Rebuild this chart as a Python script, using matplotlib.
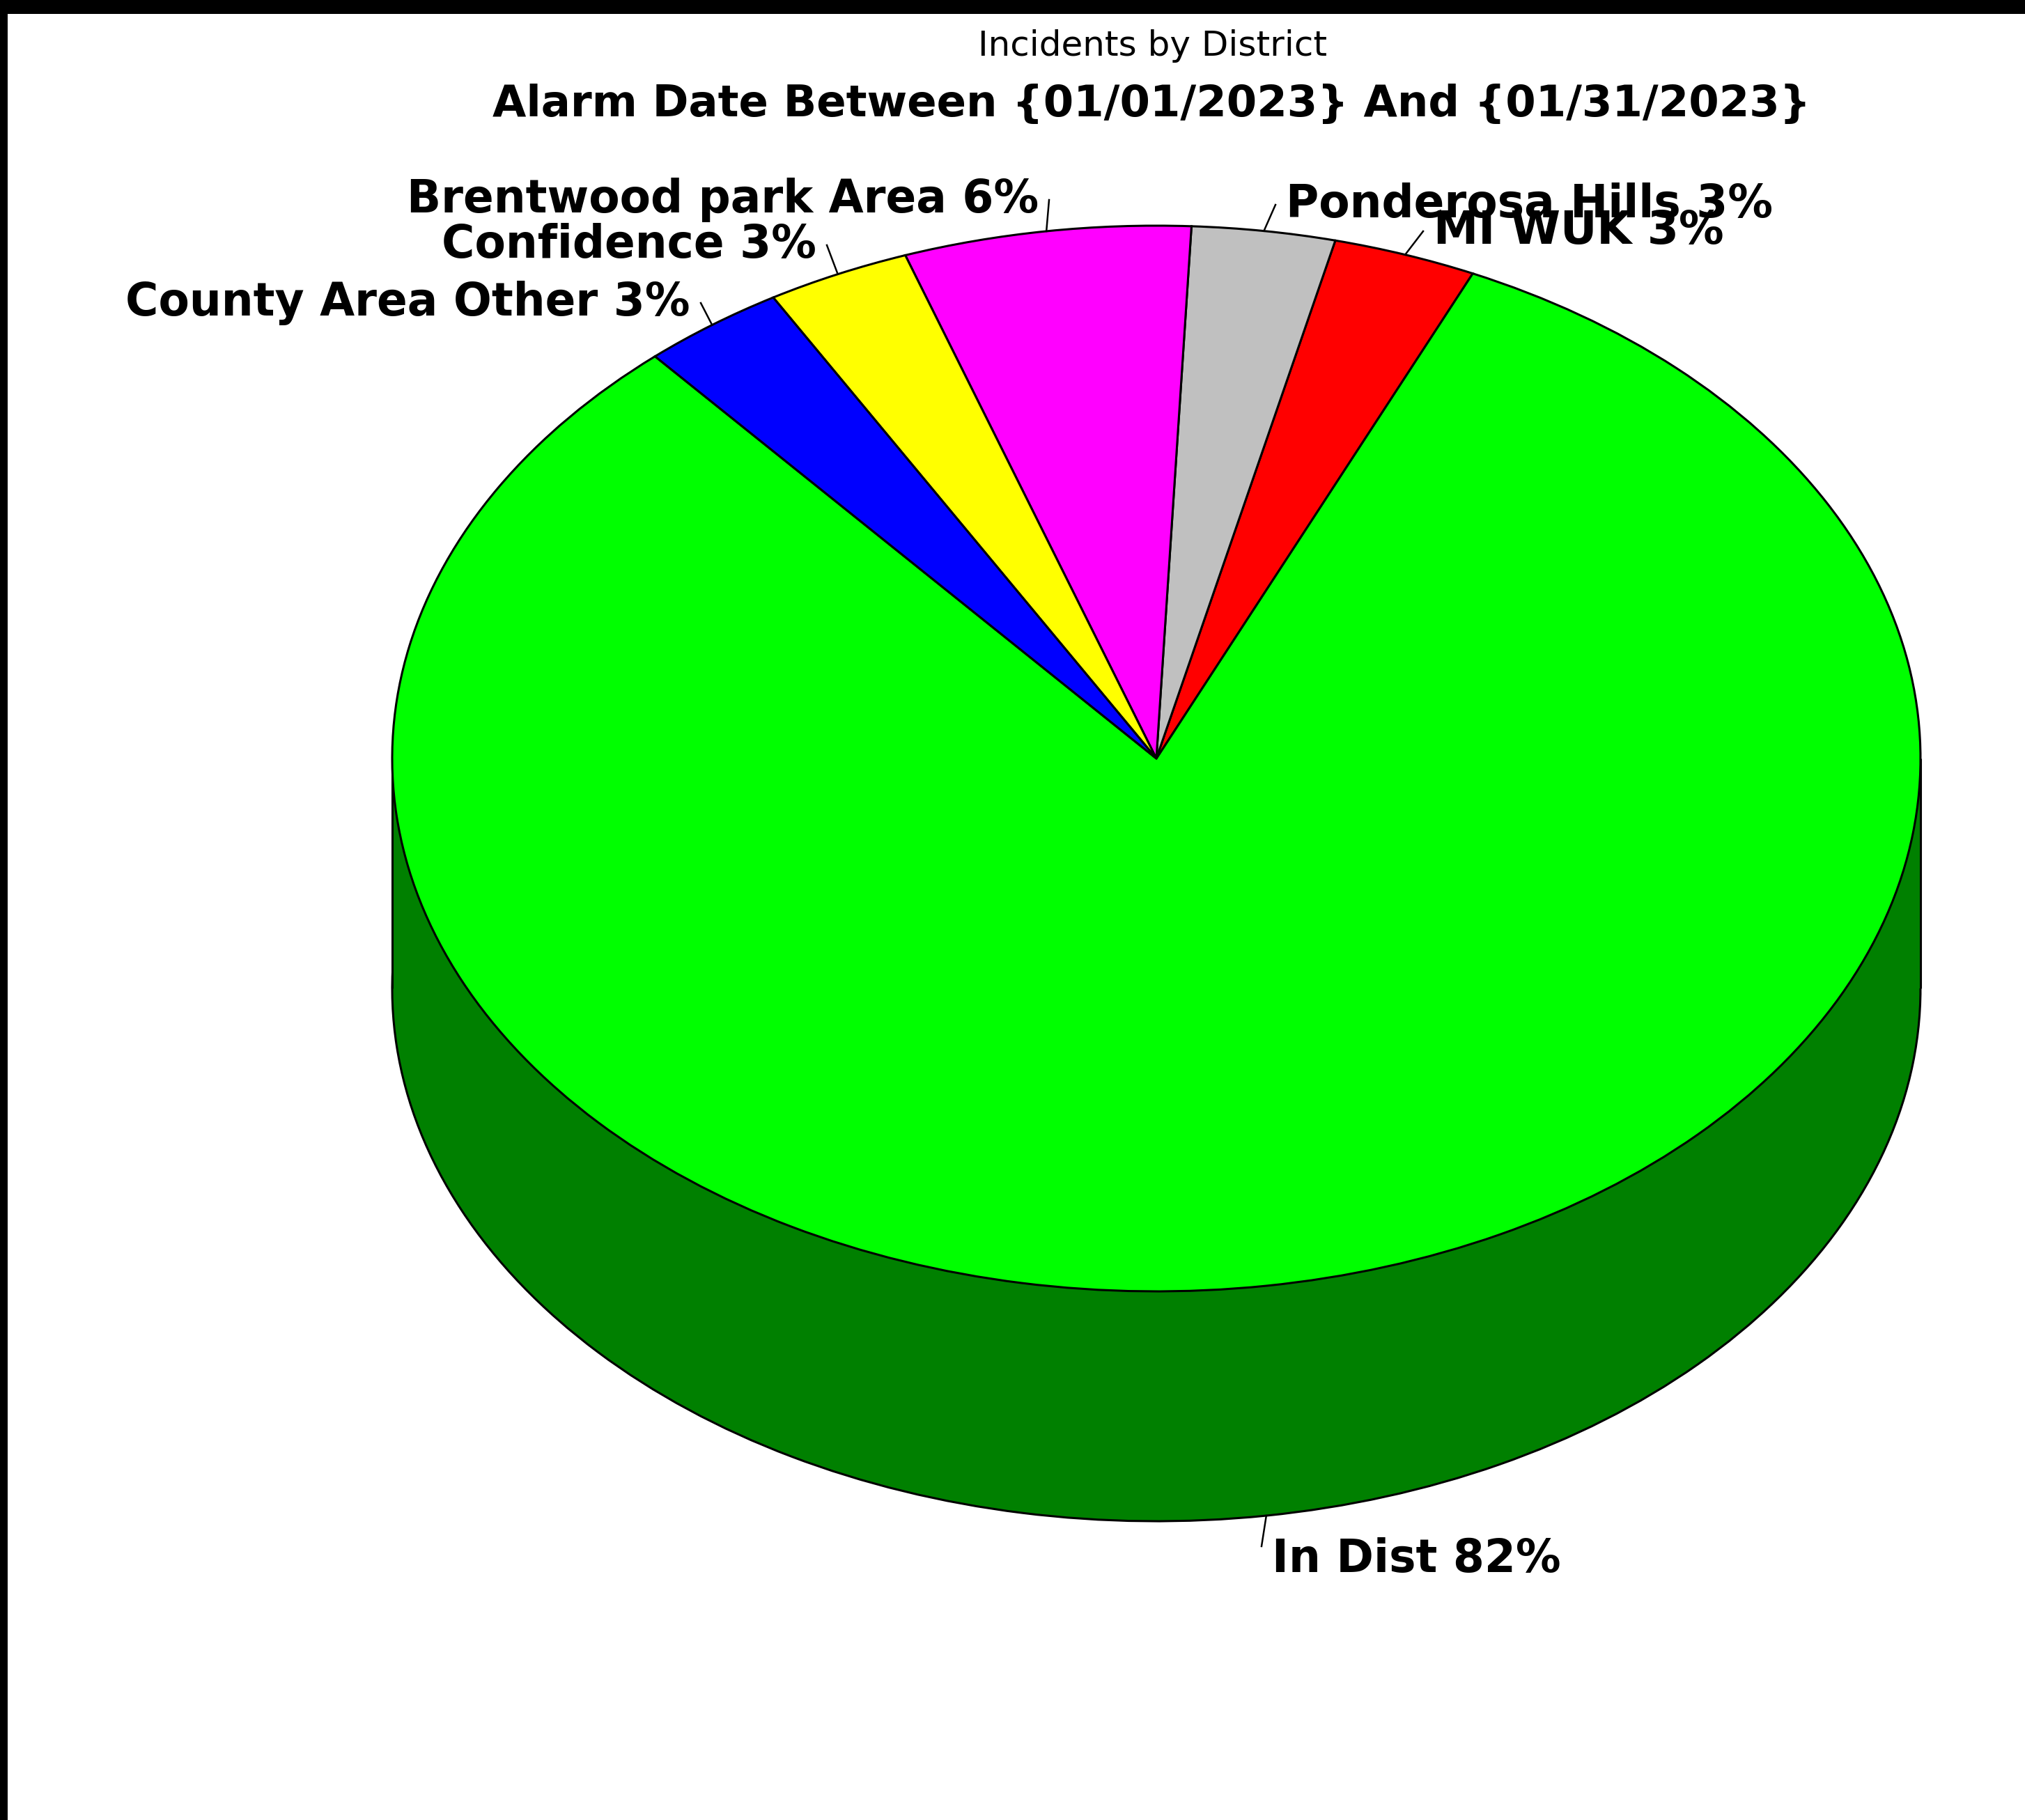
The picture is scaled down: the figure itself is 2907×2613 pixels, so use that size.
import matplotlib
matplotlib.use("Agg")
import matplotlib.pyplot as plt
import numpy as np
from matplotlib.patches import Rectangle
from matplotlib.colors import to_rgb

# incident counts by district (Jan 2023)
districts = ["In Dist", "MI WUK", "Ponderosa Hills", "Brentwood park Area",
             "Confidence", "County Area Other"]
counts = [27, 1, 1, 2, 1, 1]
colors = ["#00FF00", "#FF0000", "#C0C0C0", "#FF00FF", "#FFFF00", "#0000FF"]

title1 = "Incidents by District"
title2 = "Alarm Date Between {01/01/2023} And {01/31/2023}"

W, H = 2907, 2613
# pie ellipse in pixels: centre, half-axes, side depth
cx, cy, a, b, depth = 1660, 1089, 1097, 765, 330
d = depth / b

fig = plt.figure(figsize=(W / 100, H / 100), dpi=100)
ax = fig.add_axes([0, 0, 1, 1])


def px(x, y):
    # pixel (from top-left) -> data coords of the unit pie
    return (x - cx) / a, (cy - y) / b


dark = [tuple(c * 0.5 for c in to_rgb(col)) for col in colors]
start = 131
lw = 2.2

# bottom of the cylinder
ax.pie(counts, colors=dark, startangle=start, counterclock=True,
       center=(0, -d), radius=1,
       wedgeprops=dict(edgecolor="black", linewidth=lw))
ax.fill_between([-1, 1], -d, 0, color=dark[0], linewidth=0, zorder=1.5)
ax.vlines([-1, 1], -d, 0, color="black", linewidth=lw, zorder=1.6)
# top face
wedges, _ = ax.pie(counts, colors=colors, startangle=start, counterclock=True,
                   center=(0, 0), radius=1,
                   wedgeprops=dict(edgecolor="black", linewidth=lw, zorder=2))

ax.set_aspect("auto")
ax.set_xlim(px(0, 0)[0], px(W, 0)[0])
ax.set_ylim(px(0, H)[1], px(0, 0)[1])
ax.axis("off")

# label placement (pixel coords of text anchor, baseline)
label_pos = {
    "In Dist": (1826, 2257, "left"),
    "MI WUK": (2058, 350, "left"),
    "Ponderosa Hills": (1846, 312, "left"),
    "Brentwood park Area": (1491, 305, "right"),
    "Confidence": (1172, 370, "right"),
    "County Area Other": (991, 453, "right"),
}

total = sum(counts)
theta = start
for name, v, w in zip(districts, counts, wedges):
    span = 360.0 * v / total
    mid = np.deg2rad(theta + span / 2)
    theta += span
    ex, ey = np.cos(mid), np.sin(mid)
    if ey < 0:
        ey -= d
    tx, ty, ha = label_pos[name]
    pct = round(100 * v / total)
    off = 15 if ha == "right" else -15
    lx, ly = px(tx + off, ty - 18 if name != "In Dist" else ty - 37)
    ax.plot([ex, lx], [ey, ly], color="black", linewidth=1.8, zorder=3)
    x0, y0 = px(tx, ty)
    ax.text(x0, y0, f"{name} {pct}%", ha=ha, va="baseline",
            fontsize=46.5, fontweight="bold", family="DejaVu Sans", zorder=4)

fig.text(1655 / W, 1 - 80 / H, title1, ha="center", va="baseline",
         fontsize=36, family="DejaVu Sans")
fig.text(1653 / W, 1 - 167 / H, title2, ha="center", va="baseline",
         fontsize=45, fontweight="bold", family="DejaVu Sans")

# black frame strips at top and left
fig.patches.append(Rectangle((0, 1 - 20 / H), 1, 20 / H, transform=fig.transFigure,
                             facecolor="black", edgecolor="none"))
fig.patches.append(Rectangle((0, 0), 11 / W, 1, transform=fig.transFigure,
                             facecolor="black", edgecolor="none"))

fig.savefig("out.png", dpi=100, facecolor="white")
